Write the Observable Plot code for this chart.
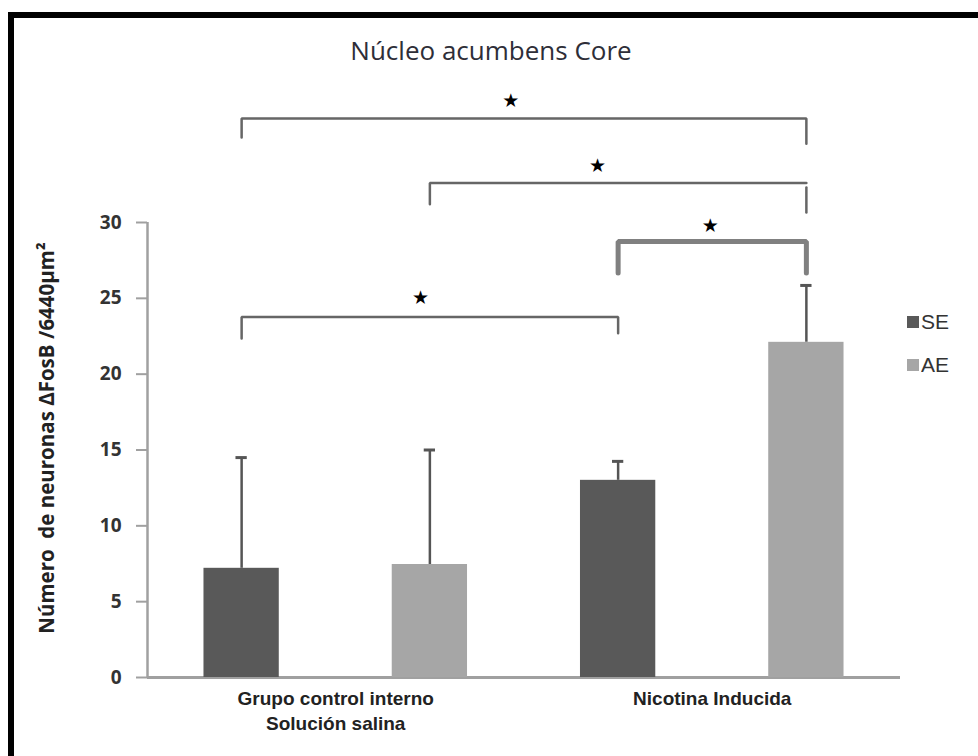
<!DOCTYPE html>
<html>
<head>
<meta charset="utf-8">
<script src="https://cdn.jsdelivr.net/npm/d3@7"></script>
<script src="https://cdn.jsdelivr.net/npm/@observablehq/plot@0.6"></script>
<style>
  html, body { margin: 0; padding: 0; background: #fff; overflow: hidden; }
  #wrap { position: relative; width: 978px; height: 756px; overflow: hidden; }
  #border { position: absolute; left: 8px; top: 12px; width: 1000px; height: 800px;
            border-top: 6px solid #000; border-left: 6px solid #000; box-sizing: border-box; }
  #title { position: absolute; left: 0; top: 37px; width: 982px; text-align: center;
           font-family: "Open Sans", sans-serif; font-size: 26px; line-height: 26px; color: #2e2e38; }
  #chart { position: absolute; left: 0; top: 0; }
  #legend { position: absolute; left: 907px; top: 300px; }
  #legend .lg-swatch { height: 43px; display: flex; align-items: center; padding: 0; margin: 0; }
  #legend .lg-swatch svg { margin-right: 2px; }
</style>
</head>
<body>
<div id="wrap">
  <div id="border"></div>
  <div id="title">Núcleo acumbens Core</div>
  <div id="chart"></div>
  <div id="legend"></div>
</div>
<script>
// ---- data ----
const categories = ["Grupo control interno\nSolución salina", "Nicotina Inducida"];
const seriesNames = ["SE", "AE"];
const seriesColors = ["#595959", "#a6a6a6"];
const meanSE = [7.2, 13.0];
const meanAE = [7.45, 22.1];
const errSE = [7.3, 1.25];
const errAE = [7.55, 3.75];
const yTicks = [0, 5, 10, 15, 20, 25, 30];
const yLabel = "Número  de neuronas ΔFosB /6440μm²";

// significance brackets (bar index = group*2 + series; y in data units)
const bracketFrom = [0, 1, 2, 0];
const bracketTo = [3, 3, 3, 2];
const bracketTop = [36.86, 32.6, 28.75, 23.77];
const bracketLeftEnd = [35.6, 31.2, 26.67, 22.35];
const bracketRightStart = [36.86, 32.3, 28.75, 23.77];
const bracketRightEnd = [35.2, 30.66, 26.67, 22.7];
const bracketThick = [false, false, true, false];
const starX = [1.43, 1.89, 2.49, 0.95];
const starY = [38.0, 33.76, 29.8, 25.0];

// ---- build tables ----
const means = [meanSE, meanAE];
const errs = [errSE, errAE];
const bars = [];
categories.forEach((c, g) => {
  seriesNames.forEach((s, k) => {
    bars.push({pos: g * 2 + k, series: s, mean: means[k][g], err: errs[k][g]});
  });
});

const segs = [];
bracketFrom.forEach((f, i) => {
  const t = bracketTo[i], top = bracketTop[i];
  const thick = bracketThick[i];
  if (bracketRightStart[i] === top) {
    [[f, bracketLeftEnd[i]], [f, top], [t, top], [t, bracketRightEnd[i]]]
      .forEach(([x, y]) => segs.push({id: i + "a", x, y, thick}));
  } else {
    [[f, bracketLeftEnd[i]], [f, top], [t, top]]
      .forEach(([x, y]) => segs.push({id: i + "a", x, y, thick}));
    [[t, bracketRightStart[i]], [t, bracketRightEnd[i]]]
      .forEach(([x, y]) => segs.push({id: i + "b", x, y, thick}));
  }
});
const stars = starX.map((x, i) => ({x, y: starY[i]}));
const groupCenters = categories.map((c, g) => ({label: c, x: g * 2 + 0.5}));

const xDomain = [-0.5, 3.5];
const halfBar = 0.2;
const halfCap = 0.03;
const color = {domain: seriesNames, range: seriesColors};

const chart = Plot.plot({
  width: 978,
  height: 756,
  marginLeft: 147,
  marginRight: 78,
  marginTop: 222,
  marginBottom: 79,
  style: {background: "transparent", overflow: "visible"},
  x: {domain: xDomain, axis: null},
  y: {domain: [0, 30], axis: null},
  color,
  marks: [
    Plot.axisY({ticks: yTicks, tickSize: 11, tickPadding: 15, stroke: "#a0a0a0", strokeWidth: 2,
                fill: "#333", fontSize: 19, fontWeight: "bold", fontFamily: "Open Sans", label: null}),
    Plot.ruleX([xDomain[0]], {y1: 0, y2: 30, stroke: "#a0a0a0", strokeWidth: 2.5}),
    Plot.ruleY([0], {x1: xDomain[0], x2: xDomain[1], stroke: "#a0a0a0", strokeWidth: 3}),
    Plot.ruleX(bars, {x: "pos", y1: "mean", y2: d => d.mean + d.err, stroke: "#555", strokeWidth: 2.5}),
    Plot.ruleY(bars, {y: d => d.mean + d.err, x1: d => d.pos - halfCap, x2: d => d.pos + halfCap,
                      stroke: "#555", strokeWidth: 3}),
    Plot.rectY(bars, {x1: d => d.pos - halfBar, x2: d => d.pos + halfBar, y1: 0, y2: "mean", fill: "series"}),
    Plot.line(segs.filter(d => !d.thick), {x: "x", y: "y", z: "id", stroke: "#666", strokeWidth: 2.5,
                      strokeLinejoin: "miter", curve: "linear"}),
    Plot.line(segs.filter(d => d.thick), {x: "x", y: "y", z: "id", stroke: "#808080", strokeWidth: 5,
                      strokeLinejoin: "miter", curve: "linear"}),
    Plot.text(stars, {x: "x", y: "y", text: () => "★", fill: "#000", fontSize: 19, fontFamily: "DejaVu Sans"}),
    Plot.text(groupCenters, {x: "x", text: "label", frameAnchor: "bottom", lineAnchor: "top", dy: 10,
                      fontSize: 19, fontWeight: "bold", fontFamily: "Liberation Sans", fill: "#222", lineHeight: 1.32}),
    Plot.text([yLabel], {frameAnchor: "left", textAnchor: "middle", rotate: -90, dx: -100, dy: -12, fontSize: 20.5,
                      fontWeight: "bold", fontFamily: "Open Sans", fill: "#222"})
  ]
});
document.getElementById("chart").appendChild(chart);

const legend = Plot.legend({color, legend: "swatches", columns: 1, swatchSize: 12, className: "lg",
  style: {fontSize: "21px", fontFamily: "Liberation Sans, Arial, sans-serif", color: "#333"}});
document.getElementById("legend").appendChild(legend);
</script>
</body>
</html>
